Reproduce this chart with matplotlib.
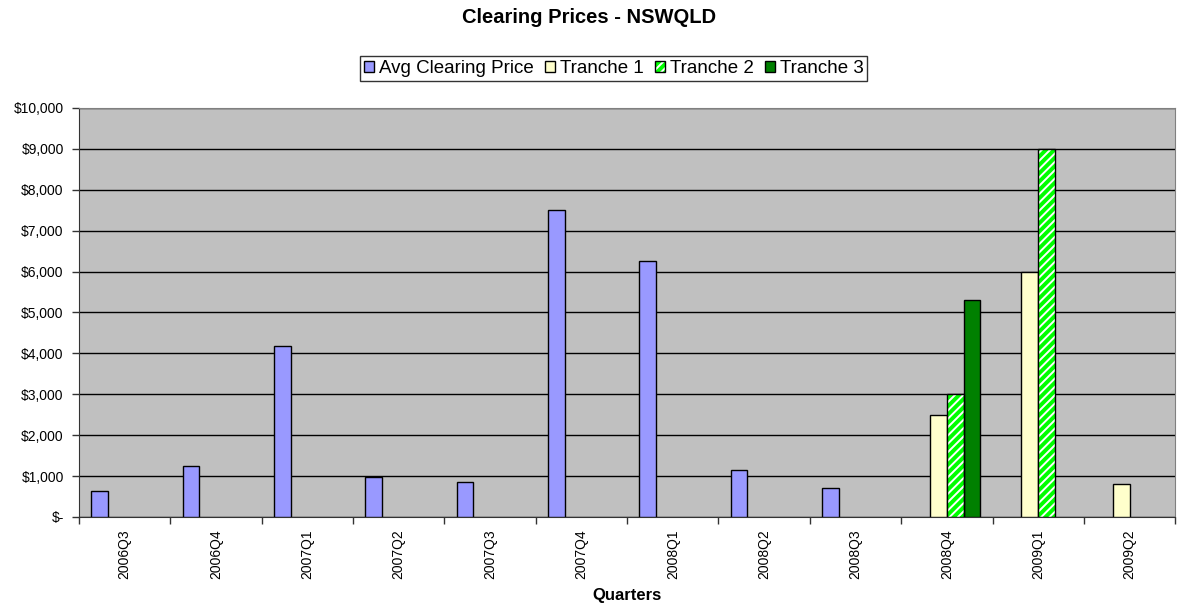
import numpy as np
import matplotlib
matplotlib.use("Agg")
import matplotlib.pyplot as plt
from matplotlib.legend_handler import HandlerTuple

plt.rcParams['font.family'] = ['Liberation Sans', 'DejaVu Sans']
plt.rcParams['hatch.linewidth'] = 1.4

# data
quarters = ["2006Q3", "2006Q4", "2007Q1", "2007Q2", "2007Q3", "2007Q4",
            "2008Q1", "2008Q2", "2008Q3", "2008Q4", "2009Q1", "2009Q2"]
avg_price = [630, 1250, 4170, 970, 860, 7500, 6250, 1160, 720, None, None, None]
tranche1 = [None, None, None, None, None, None, None, None, None, 2500, 6000, 810]
tranche2 = [None, None, None, None, None, None, None, None, None, 3000, 9000, None]
tranche3 = [None, None, None, None, None, None, None, None, None, 5300, None, None]
y_ticks = [0, 1000, 2000, 3000, 4000, 5000, 6000, 7000, 8000, 9000, 10000]
y_labels = ["$-", "$1,000", "$2,000", "$3,000", "$4,000", "$5,000",
            "$6,000", "$7,000", "$8,000", "$9,000", "$10,000"]


def vals(lst):
    return np.array([np.nan if v is None else v for v in lst], dtype=float)


def makePlot():
    fig = plt.figure(figsize=(11.81, 6.08), dpi=100)
    ax = fig.add_axes([0.0669, 0.1497, 0.9282, 0.6727])
    ax.set_facecolor("#C0C0C0")

    x = np.arange(len(quarters))
    w = 0.183
    kw = dict(width=w, edgecolor="black", linewidth=1, zorder=3)
    b0 = ax.bar(x - 1.5 * w, vals(avg_price), color="#9999FF", **kw)
    b1 = ax.bar(x - 0.5 * w, vals(tranche1), color="#FFFFCC", **kw)
    # hatched bars: white stripes on green, then a black outline on top
    b2f = ax.bar(x + 0.5 * w, vals(tranche2), width=w, color="#00FF00",
                 edgecolor="white", hatch="////", linewidth=0, zorder=3)
    b2e = ax.bar(x + 0.5 * w, vals(tranche2), width=w, fill=False,
                 edgecolor="black", linewidth=1, zorder=4)
    b3 = ax.bar(x + 1.5 * w, vals(tranche3), color="#008000", **kw)

    ax.set_xlim(-0.5, len(quarters) - 0.5)
    ax.set_ylim(0, 10000)
    ax.set_yticks(y_ticks)
    ax.set_yticklabels(y_labels, fontsize=10)
    ax.yaxis.grid(True, color="black", linewidth=1, zorder=1)
    ax.set_axisbelow(True)

    ax.set_xticks(x)
    ax.set_xticklabels(quarters, rotation=90, fontsize=10)
    ax.tick_params(axis="x", which="major", length=0, pad=9)
    ax.set_xticks(np.arange(len(quarters) + 1) - 0.5, minor=True)
    ax.tick_params(axis="x", which="minor", length=5, width=1, color="#333333")
    ax.tick_params(axis="y", length=5, width=1, color="#333333", pad=6)

    for s in ["top", "right"]:
        ax.spines[s].set_color("#808080")
    for s in ["left", "bottom"]:
        ax.spines[s].set_color("#333333")

    ax.set_xlabel("Quarters", fontsize=12, fontweight="bold", labelpad=6)
    fig.text(0.4985, 0.971, "Clearing Prices - NSWQLD", fontsize=14.5,
             fontweight="bold", ha="center", va="center")

    leg = fig.legend([b0, b1, (b2f, b2e), b3],
                     ["Avg Clearing Price", "Tranche 1", "Tranche 2", "Tranche 3"],
                     handler_map={tuple: HandlerTuple(ndivide=1, pad=0)},
                     loc="center", bbox_to_anchor=(0.5195, 0.887), ncol=4,
                     fontsize=13.5, frameon=True, fancybox=False, shadow=False,
                     handlelength=0.55, handleheight=0.55, handletextpad=0.25,
                     columnspacing=0.6, borderpad=0.2, borderaxespad=0)
    leg.get_frame().set_edgecolor("black")
    leg.get_frame().set_linewidth(1)

    fig.savefig("out.png", dpi=100)


makePlot()
